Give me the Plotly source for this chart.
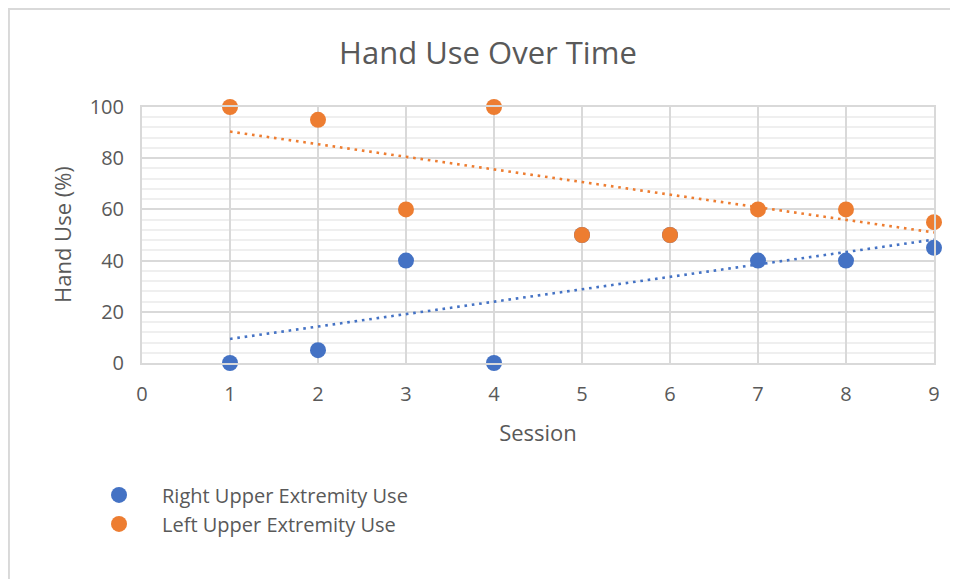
import plotly.graph_objects as go

sessions = [1, 2, 3, 4, 5, 6, 7, 8, 9]
right_use = [0, 5, 40, 0, 50, 50, 40, 40, 45]
left_use = [100, 95, 60, 100, 50, 50, 60, 60, 55]

trend_x = [1, 9]
right_trend = [9.4, 48.2]
left_trend = [90.4, 51.0]

x_ticks = [0, 1, 2, 3, 4, 5, 6, 7, 8, 9]
y_ticks = [0, 20, 40, 60, 80, 100]

BLUE = "#4472C4"
ORANGE = "#ED7D31"
TXT = "#595959"
GRID = "#d9d9d9"
FONT = "Open Sans"

fig = go.Figure()
fig.add_trace(go.Scatter(x=sessions, y=right_use, mode="markers", name="Right Upper Extremity Use",
                         marker=dict(color=BLUE, size=16), cliponaxis=False))
fig.add_trace(go.Scatter(x=sessions, y=left_use, mode="markers", name="Left Upper Extremity Use",
                         marker=dict(color=ORANGE, size=16), cliponaxis=False))
fig.add_trace(go.Scatter(x=trend_x, y=right_trend, mode="lines", showlegend=False, hoverinfo="skip",
                         line=dict(color=BLUE, width=2.6, dash="2.6px,4.8px")))
fig.add_trace(go.Scatter(x=trend_x, y=left_trend, mode="lines", showlegend=False, hoverinfo="skip",
                         line=dict(color=ORANGE, width=2.6, dash="2.6px,4.8px")))

fig.update_layout(
    width=958, height=579,
    margin=dict(l=134, r=32, t=99, b=224, autoexpand=False),
    paper_bgcolor="white", plot_bgcolor="white",
    font=dict(family=FONT, color=TXT, size=20),
    title=dict(text="Hand Use Over Time", x=0.501, xanchor="center", xref="container",
               y=0.922, yanchor="middle", yref="container",
               font=dict(size=31, color=TXT, family=FONT)),
    showlegend=True,
    legend=dict(xref="container", yref="container", x=0.071, y=0.134, xanchor="left", yanchor="middle",
                font=dict(size=20, color=TXT), itemwidth=76, bgcolor="rgba(0,0,0,0)"),
    xaxis=dict(range=[0, 9], tickvals=x_ticks, showgrid=True, gridcolor=GRID, gridwidth=2,
               zeroline=False, showline=True, linecolor=GRID, linewidth=2, mirror=True,
               ticks="", ticklabelstandoff=12, tickfont=dict(size=20, color=TXT),
               title=dict(text="Session", standoff=20, font=dict(size=22, color=TXT))),
    yaxis=dict(range=[0, 100], tickvals=y_ticks, showgrid=True, gridcolor=GRID, gridwidth=2,
               zeroline=False, showline=True, linecolor=GRID, linewidth=2, mirror=True,
               ticks="outside", ticklen=12, tickcolor="rgba(0,0,0,0)", tickfont=dict(size=20, color=TXT),
               minor=dict(dtick=4, showgrid=True, gridcolor="#efefef", gridwidth=2)),
    annotations=[dict(text="Hand Use (%)", xref="paper", yref="paper", x=-0.101, y=0.5,
                      xanchor="center", yanchor="middle", textangle=-90, showarrow=False,
                      font=dict(size=22, color=TXT, family=FONT))],
    shapes=[dict(type="rect", xref="paper", yref="paper", x0=-0.168, y0=-0.9, x1=1.05, y1=1.383,
                 line=dict(color=GRID, width=2), layer="below")],
)

fig.write_html("out.html")
